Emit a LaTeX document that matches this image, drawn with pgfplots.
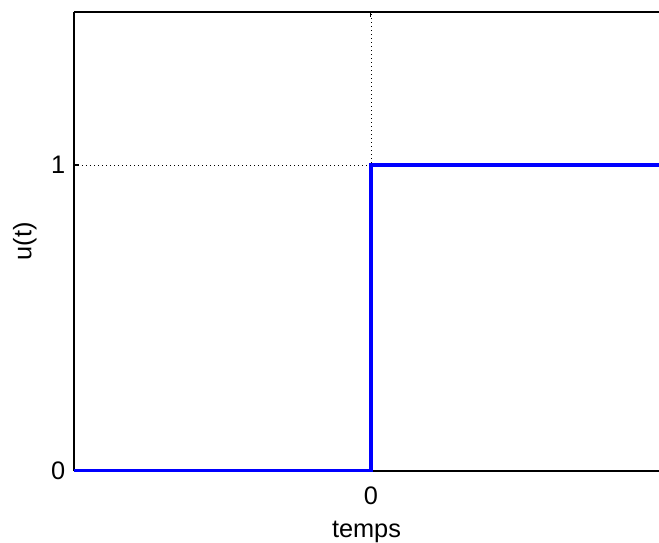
\documentclass[border=0pt]{standalone}
\usepackage{pgfplots}
\pgfplotsset{compat=1.18}
\usepackage{fontspec}
\setmainfont{Liberation Sans}
\begin{document}
\fontsize{19}{22}\selectfont
\begin{tikzpicture}
\begin{axis}[
  scale only axis,
  width=438.75pt, height=344.25pt,
  xmin=-1, xmax=0.97, ymin=0, ymax=1.5,
  axis x line=box, axis y line=left,
  axis line style={line width=1pt, -},
  xtick={0}, ytick={0,1},
  tick align=inside,
  major tick length=4pt,
  tick style={line width=0.8pt, black},
  grid=major,
  grid style={black, line width=0.6pt, dash pattern=on 0.75pt off 2.25pt},
  xlabel={temps}, ylabel={u(t)},
  xticklabel style={yshift=-5pt},
  xlabel style={yshift=0pt},
  ylabel style={yshift=-2pt},
  ticklabel style={font=\fontsize{19}{22}\selectfont},
  label style={font=\fontsize{19}{22}\selectfont},
  /pgf/number format/assume math mode=true,
]
\addplot[color={rgb,255:red,0;green,0;blue,255}, line width=3pt] coordinates {(-1,0) (0,0) (0,1) (1,1)};
\end{axis}
\pgfresetboundingbox
\useasboundingbox (current axis.south west) ++(-55.5pt,-53.25pt) rectangle ++(494.25pt,406.5pt);
\end{tikzpicture}
\end{document}
